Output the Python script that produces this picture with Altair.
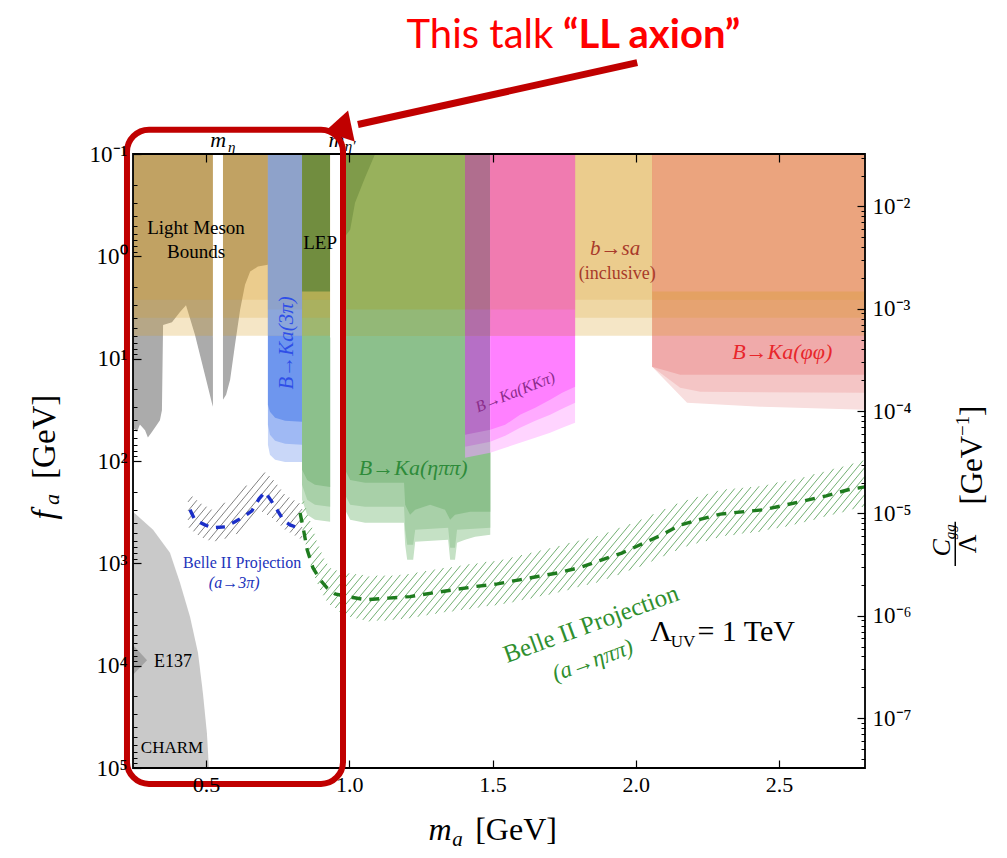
import json
import altair as alt
import numpy as np
import pandas as pd

# ------------------------------------------------------------------ axes
X_MIN, X_MAX = 0.245, 2.80          # m_a [GeV]
F_MIN, F_MAX = 0.1, 1.0e5           # f_a [GeV]  (reversed log axis)
C_MIN, C_MAX = 3.25e-8, 3.25e-2     # C_gg / Lambda [GeV^-1] (right axis)
W, H = 732, 614

X_TICKS = [0.5, 1.0, 1.5, 2.0, 2.5]
F_TICK_LABELS = ["10⁻¹", "10⁰", "10¹", "10²", "10³", "10⁴", "10⁵"]
C_TICK_LABELS = ["10⁻⁷", "10⁻⁶", "10⁻⁵", "10⁻⁴", "10⁻³", "10⁻²"]

# ------------------------------------------------------------------ excluded regions (lower edge in f_a)
# b -> s a (inclusive): full width, three bands (outer, middle, inner)
BSA_X = [0.245, 2.80]
BSA_EDGES = [5.97, 3.98, 2.66]

# light meson bounds
LM1_X = [0.245, 0.259, 0.269, 0.287, 0.297, 0.311, 0.329, 0.339, 0.346, 0.350, 0.381, 0.409, 0.430, 0.461, 0.496, 0.521, 0.524]
LM1_F = [47, 52, 44, 50, 59, 52, 44, 40, 32, 4.7, 4.4, 3.5, 3.0, 5.8, 14.4, 27.6, 29.5]
LM2_X = [0.559, 0.570, 0.584, 0.601, 0.619, 0.636, 0.654, 0.681, 0.716]
LM2_F = [25.2, 22.5, 16.1, 7.3, 3.3, 1.9, 1.41, 1.26, 1.21]

# E137 / CHARM (upper edge, region extends to the bottom)
E137_X = [0.245, 0.315, 0.374, 0.409, 0.444, 0.472, 0.489, 0.503, 0.510]
E137_F = [314, 471, 790, 1550, 3330, 7500, 18450, 45400, 100000]
E137_CORE_X = [0.245, 0.294]
E137_CORE_UP = [6270, 8830]
E137_CORE_LO = [12300, 8830]

# B -> K a (3 pi)
B3PI_X = [0.716, 0.723, 0.741, 0.776, 0.835]
B3PI_IN = [28.2, 33.0, 37.8, 40.5, 41.4]
B3PI_MID = [44.3, 55.5, 63.5, 67.9, 69.5]
B3PI_OUT = [69.5, 86.9, 97.3, 102, 102]

# B -> K a (eta pi pi), left lobe and right part
ETAL_X = [0.835, 0.853, 0.880, 0.933]
ETAL_IN = [122, 153, 171, 179]
ETAL_MID = [171, 239, 268, 280]
ETAL_OUT = [239, 336, 376, 393]
ETAR_IN_X = [0.985, 1.003, 1.055, 1.191, 1.195, 1.212, 1.230, 1.282, 1.334, 1.352, 1.369, 1.422, 1.492]
ETAR_IN = [122, 153, 163, 163, 268, 336, 300, 268, 300, 376, 336, 314, 314]
ETAR_MID_X = [0.985, 1.003, 1.055, 1.191, 1.195, 1.202, 1.223, 1.230, 1.345, 1.352, 1.369, 1.376, 1.492]
ETAR_MID = [214, 268, 280, 280, 471, 659, 659, 471, 450, 706, 706, 471, 450]
ETAR_OUT_X = [0.985, 1.003, 1.055, 1.191, 1.195, 1.202, 1.223, 1.230, 1.345, 1.352, 1.369, 1.376, 1.404, 1.439, 1.492]
ETAR_OUT = [300, 376, 402, 402, 659, 924, 924, 617, 589, 924, 924, 631, 589, 551, 527]

# LEP
LEP_X = [0.835, 0.933]
LEP_F = [2.2, 2.2]
LEP_CURVE_X = [0.985, 1.003, 1.020, 1.055, 1.09]
LEP_CURVE_F = [0.64, 0.55, 0.30, 0.17, 0.1]

# B -> K a (K K pi) and its overlap with eta pi pi
KK_X = [1.492, 1.544, 1.596, 1.649, 1.701, 1.743, 1.788]
KK_IN = [49.6, 44.3, 35.3, 30.2, 25.2, 21.5, 18.8]
KK_MID = [64.9, 56.7, 47.4, 40.5, 35.3, 30.9, 27.0]
KK_OUT = [83.2, 74.3, 66.4, 59.4, 53.0, 47.4, 42.4]
OVL_X = [1.404, 1.492]
OVL_IN = [55.5, 49.6]
OVL_MID = [72.6, 64.9]
OVL_OUT = [93.1, 83.2]

# B -> K a (phi phi)
PHI_IN_X = [2.057, 2.155, 2.80]
PHI_IN = [12.0, 14.4, 14.4]
PHI_MID_X = [2.057, 2.155, 2.225, 2.80]
PHI_MID = [12.0, 19.2, 21.1, 21.5]
PHI_OUT_X = [2.057, 2.179, 2.434, 2.80]
PHI_OUT = [12.0, 27.0, 29.5, 31.6]

# top parts where the inclusive b->sa bound overlaps (two shades)
TOP_B3PI_X, TOP_ETA_X, TOP_OVL_X = [0.716, 0.835], [0.985, 1.404], [1.404, 1.492]
TOP_KK_X, TOP_PHI_X = [1.492, 1.788], [2.057, 2.80]
TOP_EDGE = [3.3, 3.3]
TOP_EDGE_LOW = [5.97, 5.97]
TOP_PHI_EDGE = [2.2, 2.2]

# mass vetoes around m_eta and m_eta'
GAP1_X, GAP2_X = [0.524, 0.559], [0.933, 0.985]
GAP_EDGE = [6.2, 6.2]

# Belle II projections
BLUE_X = [0.444, 0.461, 0.496, 0.521, 0.566, 0.601, 0.636, 0.660, 0.685, 0.706, 0.730, 0.748, 0.769, 0.793, 0.821]
BLUE_F = [300, 376, 421, 450, 440, 393, 343, 307, 234, 200, 251, 300, 376, 421, 450]
BLUE_BAND_X = [0.437, 0.479, 0.521, 0.556, 0.601, 0.654, 0.695, 0.730, 0.776, 0.835]
BLUE_BAND_UP = [205, 256, 300, 268, 214, 163, 122, 146, 214, 268]
BLUE_BAND_LO = [440, 551, 617, 589, 527, 421, 314, 360, 471, 589]

GREEN_X = [0.828, 0.839, 0.853, 0.873, 0.898, 0.922, 0.950, 0.994, 1.058, 1.135, 1.212, 1.287, 1.364,
           1.440, 1.517, 1.594, 1.657, 1.734, 1.810, 1.874, 1.951, 2.015, 2.091, 2.155, 2.218, 2.295,
           2.371, 2.448, 2.525, 2.588, 2.665, 2.741, 2.80]
GREEN_F = [321, 450, 738, 1104, 1449, 1734, 1985, 2113, 2273, 2188, 2113, 1956, 1814,
           1686, 1586, 1449, 1346, 1230, 1089, 940, 795, 659, 527, 423, 376, 330,
           314, 299, 268, 245, 219, 191, 179]
GREEN_BAND_X = [0.835, 0.863, 0.898, 0.933, 0.992, 1.073, 1.177, 1.352, 1.527, 1.701, 1.876, 2.015, 2.155, 2.295, 2.434, 2.574, 2.714, 2.80]
GREEN_BAND_UP = [214, 376, 738, 1104, 1238, 1324, 1295, 1081, 924, 706, 527, 376, 251, 191, 175, 146, 114, 97.3]
GREEN_BAND_LO = [471, 1035, 1897, 2600, 3330, 3727, 3563, 2985, 2543, 2031, 1517, 1081, 721, 551, 492, 411, 321, 280]

# annotation anchors (text, m_a, f_a)
LABELS = {
    "lm1": ("Light Meson", 0.465, 0.525), "lm2": ("Bounds", 0.465, 0.90),
    "lep": ("LEP", 0.898, 0.74),
    "bsa1": ("b→sa", 1.928, 0.85), "bsa2": ("(inclusive)", 1.935, 1.50),
    "phi": ("B→Ka(φφ)", 2.511, 8.6), "eta": ("B→Ka(ηππ)", 1.223, 116),
    "b3pi": ("B→Ka(3π)", 0.783, 7.0), "kk": ("B→Ka(KKπ)", 1.579, 21.2),
    "e137": ("E137", 0.385, 9180), "charm": ("CHARM", 0.381, 63700),
    "bb1": ("Belle II Projection", 0.626, 989), "bb2": ("(a→3π)", 0.598, 1550),
    "bg1": ("Belle II Projection", 1.844, 3900), "bg2": ("(a→ηππ)", 1.850, 8900),
    "lam": ("Λ", 2.050, 4670), "uv": ("UV", 2.122, 5900), "tev": ("= 1 TeV", 2.215, 4670),
    "meta_m": ("m", 0.542, 0.0725), "meta_s": ("η", 0.590, 0.0845),
    "metap_m": ("m", 0.955, 0.0725), "metap_s": ("η′", 1.003, 0.0835),
    "xt_m": ("m", 1.317, 4.0e5), "xt_a": ("a", 1.378, 5.0e5), "xt_g": ("[GeV]", 1.582, 4.0e5),
    "yt_f": ("f", -0.062, 336), "yt_a": ("a", -0.036, 238), "yt_g": ("[GeV]", -0.062, 58),
    "rt_c": ("C", 3.070, 706), "rt_gg": ("gg", 3.098, 492), "rt_l": ("Λ", 3.160, 646),
    "rt_g1": ("[GeV", 3.178, 123), "rt_g2": ("−1", 3.143, 45.3), "rt_g3": ("]", 3.178, 32.3),
    "t1": ("This talk", 1.712, 0.0070), "t2": ("“LL axion”", 1.746, 0.0070),
}
RT_BAR = (3.115, 393, 1061)
HILITE = (0.224, 0.978, 0.0578, 1.43e5)
ARROW = (2.005, 0.0128, 1.030, 0.0515)
ARROW_HEAD = (0.976, 0.0556)

# ------------------------------------------------------------------ encodings
SERIF = "Liberation Serif"
xscale = alt.Scale(domain=[X_MIN, X_MAX], nice=False, zero=False)
fscale = alt.Scale(type="log", domain=[F_MIN, F_MAX], reverse=True, nice=False)
cscale = alt.Scale(type="log", domain=[C_MIN, C_MAX], nice=False)

LOG = "log(datum.value)/LN10"
MAJOR = f"abs({LOG} - round({LOG})) < 0.001"
MINOR = f"abs({LOG} - round({LOG})) > 0.001"
TICK_DASH = {"condition": {"test": MINOR, "value": [0, 4, 4, 0]}, "value": [8, 0]}

f_ticks = [float(f"{k}e{n}") for n in range(-1, 5) for k in range(1, 10)] + [1e5]
c_ticks = [v for v in (float(f"{k}e{n}") for n in range(-8, -1) for k in range(1, 10)) if C_MIN <= v <= C_MAX]
f_expr = f"{MAJOR} ? {json.dumps(F_TICK_LABELS, ensure_ascii=False)}[round({LOG}) + 1] : ''"
c_expr = f"{MAJOR} ? {json.dumps(C_TICK_LABELS, ensure_ascii=False)}[round({LOG}) + 7] : ''"

common = dict(grid=False, domain=False, title=None, tickColor="black", tickWidth=1.2, tickSize=8,
              offset=-8, labelFont=SERIF, labelColor="black", zindex=1,
              labelOverlap=False, labelFlush=False)
x_axis = alt.Axis(values=X_TICKS, format=".1f", labelPadding=6, labelFontSize=22, **common)
f_axis = alt.Axis(values=f_ticks, labelExpr=f_expr, tickDash=TICK_DASH, labelPadding=6, labelFontSize=23, **common)
top_axis = alt.Axis(orient="top", values=X_TICKS, labels=False, **common)
c_axis = alt.Axis(orient="right", values=c_ticks, labelExpr=c_expr, tickDash=TICK_DASH, labelPadding=7,
                  labelFontSize=23, **common)

X = alt.X("x:Q", scale=xscale, axis=x_axis)
Y = alt.Y("f:Q", scale=fscale, axis=f_axis)


def band(xs, lower, color, upper=None, opacity=1.0):
    if upper is None:
        upper = [F_MIN] * len(xs)
    df = pd.DataFrame({"x": xs, "f": lower, "f2": upper})
    return alt.Chart(df).mark_area(color=color, opacity=opacity).encode(x=X, y=Y, y2="f2:Q")


def polyline(xs, fs, color, width, dash):
    df = pd.DataFrame({"x": xs, "f": fs, "i": list(range(len(xs)))})
    return alt.Chart(df).mark_line(color=color, strokeWidth=width, strokeDash=dash).encode(
        x=X, y=Y, order="i:Q")


def hatch(xs, f_up, f_lo, color, step_px=7.5, slope=1.2, width=0.8):
    ppx = W / (X_MAX - X_MIN)
    ppd = H / (np.log10(F_MAX) - np.log10(F_MIN))
    xx = np.linspace(xs[0], xs[-1], 900)
    pu = (np.interp(xx, xs, np.log10(f_up)) - np.log10(F_MIN)) * ppd
    pl = (np.interp(xx, xs, np.log10(f_lo)) - np.log10(F_MIN)) * ppd
    px = (xx - X_MIN) * ppx
    cu, cl = pu + slope * px, pl + slope * px
    rows = []
    for c in np.arange(cu.min(), cl.max(), step_px * slope):
        ly = c - slope * px
        idx = np.flatnonzero((ly >= pu) & (ly <= pl))
        if idx.size < 2:
            continue
        br = np.flatnonzero(np.diff(idx) > 1)
        starts = np.r_[idx[0], idx[br + 1]]
        ends = np.r_[idx[br], idx[-1]]
        for a, b in zip(starts, ends):
            if b > a:
                rows.append({"x": xx[a], "f": 10 ** (ly[a] / ppd + np.log10(F_MIN)),
                             "x2": xx[b], "f2": 10 ** (ly[b] / ppd + np.log10(F_MIN))})
    df = pd.DataFrame(rows)
    return alt.Chart(df).mark_rule(color=color, strokeWidth=width).encode(x=X, y=Y, x2="x2:Q", y2="f2:Q")


def label(key, size, color="black", style="normal", weight="normal", angle=0, align="center", font=SERIF):
    t, x, f = LABELS[key]
    df = pd.DataFrame({"x": [x], "f": [f], "t": [t]})
    return alt.Chart(df).mark_text(fontSize=size, color=color, fontStyle=style, fontWeight=weight,
                                   angle=angle, align=align, baseline="middle", font=font).encode(
        x=X, y=Y, text="t:N")


layers = []
# light grey E137 / CHARM
layers.append(band(E137_X, [F_MAX] * len(E137_X), "#C9C9C9", upper=E137_F))
layers.append(band(E137_CORE_X, E137_CORE_LO, "#A3A3A3", upper=E137_CORE_UP))
# light meson bounds
layers.append(band(LM1_X, LM1_F, "#ABABAB"))
layers.append(band(LM2_X, LM2_F, "#ABABAB"))
# B -> K a (3 pi)
layers += [band(B3PI_X, B3PI_OUT, "#C9D7F8"), band(B3PI_X, B3PI_MID, "#9FB9F4"), band(B3PI_X, B3PI_IN, "#6E96EE")]
# B -> K a (eta pi pi)
layers += [band(ETAL_X, ETAL_OUT, "#C5E1C5"), band(ETAL_X, ETAL_MID, "#A8D0A8"), band(ETAL_X, ETAL_IN, "#8CC08C")]
layers += [band(ETAR_OUT_X, ETAR_OUT, "#C5E1C5"), band(ETAR_MID_X, ETAR_MID, "#A8D0A8"), band(ETAR_IN_X, ETAR_IN, "#8CC08C")]
# overlap and K K pi
layers += [band(OVL_X, OVL_OUT, "#C4ADD0"), band(OVL_X, OVL_MID, "#C08ECF"), band(OVL_X, OVL_IN, "#B66FC6")]
layers += [band(KK_X, KK_OUT, "#FFD4FF"), band(KK_X, KK_MID, "#FFAAFF"), band(KK_X, KK_IN, "#FF80FF")]
# phi phi
layers += [band(PHI_OUT_X, PHI_OUT, "#F8DEDE"), band(PHI_MID_X, PHI_MID, "#F4C5C5"), band(PHI_IN_X, PHI_IN, "#F0AAAA")]
# inclusive b -> s a (translucent)
for edge, op in zip(BSA_EDGES, [0.25, 0.2, 0.17]):
    layers.append(band(BSA_X, [edge, edge], "#D99D1D", opacity=op))
# overlapped top parts (lower lighter shade, then main shade)
layers += [band(TOP_B3PI_X, TOP_EDGE_LOW, "#8CA6DA"), band(TOP_B3PI_X, TOP_EDGE, "#8EA2CA"),
           band(TOP_ETA_X, TOP_EDGE_LOW, "#93B877"), band(TOP_ETA_X, TOP_EDGE, "#98B15C"),
           band(TOP_OVL_X, TOP_EDGE_LOW, "#B26EA8"), band(TOP_OVL_X, TOP_EDGE, "#B06E8E"),
           band(TOP_KK_X, TOP_EDGE_LOW, "#F57CCB"), band(TOP_KK_X, TOP_EDGE, "#F07BB0"),
           band(TOP_PHI_X, TOP_PHI_EDGE, "#EBA47E"),
           band(LEP_X, LEP_F, "#718D3F"), band(LEP_CURVE_X, LEP_CURVE_F, "#7F9B4A")]
# veto gaps
layers += [band(GAP1_X, GAP_EDGE, "white"), band(GAP2_X, GAP_EDGE, "white")]
# Belle II projections
layers.append(hatch(BLUE_BAND_X, BLUE_BAND_UP, BLUE_BAND_LO, "#4A4A4A", width=0.7))
layers.append(hatch(GREEN_BAND_X, GREEN_BAND_UP, GREEN_BAND_LO, "#4E9A4E"))
layers.append(polyline(BLUE_X, BLUE_F, "#1B2FC8", 3.4, [9, 8]))
layers.append(polyline(GREEN_X, GREEN_F, "#1E7B1E", 3.4, [10, 8]))

# texts
layers += [
    label("lm1", 19), label("lm2", 19), label("lep", 19),
    label("bsa1", 21, "#A83A2A", style="italic"), label("bsa2", 18, "#A83A2A"),
    label("phi", 22, "#E8262B", style="italic"), label("eta", 22, "#2E8B3A", style="italic"),
    label("b3pi", 21, "#2F4FE8", style="italic", angle=270),
    label("kk", 16, "#8A2C8A", style="italic", angle=338),
    label("e137", 18), label("charm", 17),
    label("bb1", 16, "#2233BB"), label("bb2", 16, "#2233BB", style="italic"),
    label("bg1", 25, "#2F8F2F", angle=340), label("bg2", 23, "#2F8F2F", style="italic", angle=340),
    label("lam", 30, align="left"), label("uv", 17, align="left"), label("tev", 30, align="left"),
    label("meta_m", 22, style="italic"), label("meta_s", 15, style="italic"),
    label("metap_m", 22, style="italic"), label("metap_s", 15, style="italic"),
    label("xt_m", 32, style="italic"), label("xt_a", 21, style="italic"), label("xt_g", 32),
    label("yt_f", 33, style="italic", angle=270), label("yt_a", 22, style="italic", angle=270),
    label("yt_g", 33, angle=270),
    label("rt_c", 26, style="italic", angle=270), label("rt_gg", 15, style="italic", angle=270),
    label("rt_l", 26, angle=270),
    label("rt_g1", 31, angle=270), label("rt_g2", 19, angle=270), label("rt_g3", 31, angle=270),
]
bar_df = pd.DataFrame({"x": [RT_BAR[0]], "f": [RT_BAR[1]], "f2": [RT_BAR[2]]})
layers.append(alt.Chart(bar_df).mark_rule(color="black", strokeWidth=1.5).encode(x=X, y=Y, y2="f2:Q"))

# frame
frame_df = pd.DataFrame({"x": [X_MIN], "x2": [X_MAX], "f": [F_MIN], "f2": [F_MAX]})
layers.append(alt.Chart(frame_df).mark_rect(fillOpacity=0, stroke="black", strokeWidth=1.8).encode(
    x=X, x2="x2:Q", y=Y, y2="f2:Q"))

# highlight box, arrow and title
hl_df = pd.DataFrame({"x": [HILITE[0]], "x2": [HILITE[1]], "f": [HILITE[2]], "f2": [HILITE[3]]})
layers.append(alt.Chart(hl_df).mark_rect(fillOpacity=0, stroke="#C00000", strokeWidth=6, cornerRadius=22).encode(
    x=X, x2="x2:Q", y=Y, y2="f2:Q"))
ar_df = pd.DataFrame({"x": [ARROW[0]], "f": [ARROW[1]], "x2": [ARROW[2]], "f2": [ARROW[3]]})
layers.append(alt.Chart(ar_df).mark_rule(color="#C00000", strokeWidth=7).encode(x=X, y=Y, x2="x2:Q", y2="f2:Q"))
ah_df = pd.DataFrame({"x": [ARROW_HEAD[0]], "f": [ARROW_HEAD[1]]})
layers.append(alt.Chart(ah_df).mark_point(shape="triangle", filled=True, color="#C00000", opacity=1,
                                          size=1000, angle=258).encode(x=X, y=Y))
layers.append(label("t1", 40, "#FF0000", align="right", font="Lato"))
layers.append(label("t2", 40, "#FF0000", weight="bold", align="left", font="Lato"))

main = alt.layer(*layers)

top_layer = alt.Chart(pd.DataFrame({"x": X_TICKS})).mark_point(opacity=0).encode(
    x=alt.X("x:Q", scale=xscale, axis=top_axis))
right_layer = alt.Chart(pd.DataFrame({"c": [C_MIN, C_MAX]})).mark_point(opacity=0).encode(
    y=alt.Y("c:Q", scale=cscale, axis=c_axis))

chart = (
    alt.layer(main, top_layer, right_layer)
    .resolve_scale(y="independent")
    .resolve_axis(x="independent", y="independent")
    .properties(width=W, height=H, autosize=alt.AutoSizeParams(type="none"),
                padding={"left": 125, "top": 146, "right": 133, "bottom": 88})
    .configure_view(stroke=None)
    .configure(font=SERIF, background="white")
)

chart.save("out.html", embed_options={"renderer": "svg", "actions": False})
